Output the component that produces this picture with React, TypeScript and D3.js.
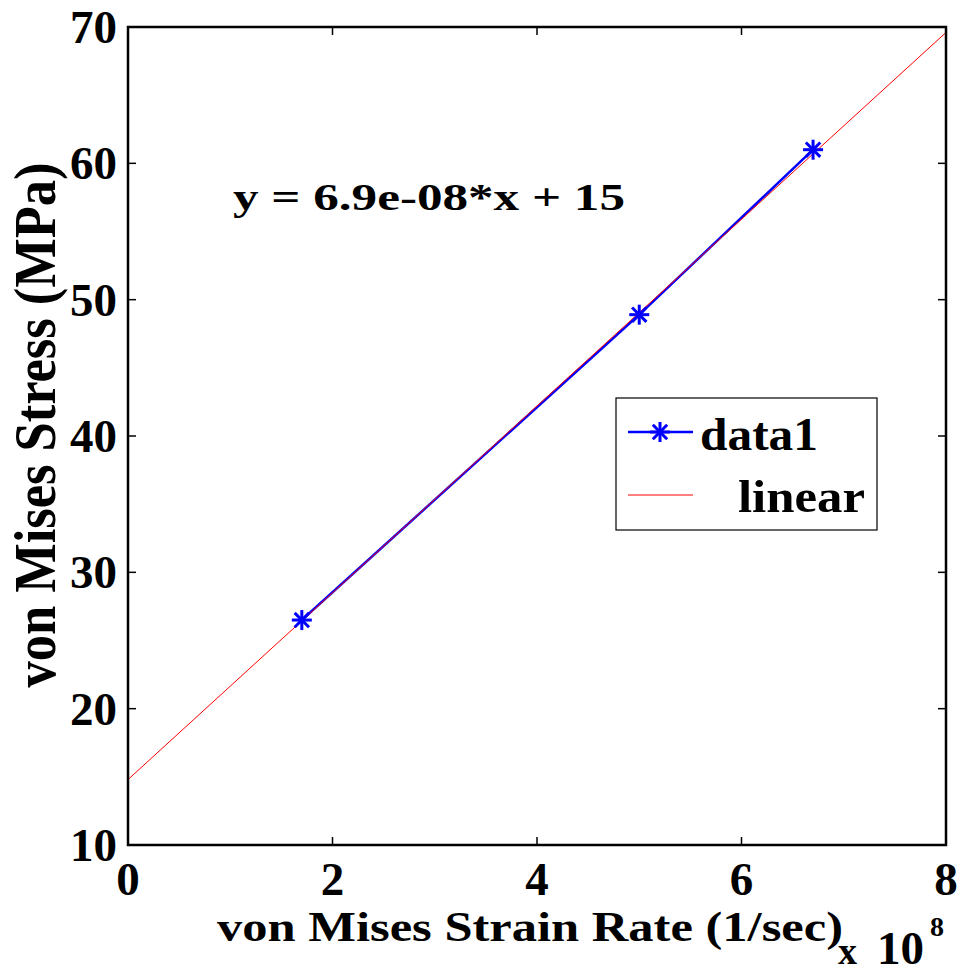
import React from "react";
import * as d3 from "d3";

const dataX = [1.7e8, 5.0e8, 6.7e8];
const dataY = [26.5, 48.9, 61.0];
const linearX = [0, 8e8];
const linearY = [14.8, 69.6];
const xTicks = [0, 2e8, 4e8, 6e8, 8e8];
const yTicks = [10, 20, 30, 40, 50, 60, 70];
const equationText = "y = 6.9e-08*x + 15";
const xLabel = "von Mises Strain Rate (1/sec)";
const yLabel = "von Mises Stress (MPa)";
const legendLabels = ["data1", "linear"];

const W = 962, H = 974;
const L = 128, T = 27, R = 946, B = 845;
const FONT = "'Liberation Serif', 'Times New Roman', serif";

function Star({ x, y }: { x: number; y: number }) {
  const r = 10, d = r * 0.72;
  return (
    <g stroke="#0000ff" strokeWidth={3}>
      <line x1={x - r} y1={y} x2={x + r} y2={y} />
      <line x1={x} y1={y - r} x2={x} y2={y + r} />
      <line x1={x - d} y1={y - d} x2={x + d} y2={y + d} />
      <line x1={x - d} y1={y + d} x2={x + d} y2={y - d} />
    </g>
  );
}

export default function App() {
  const x = d3.scaleLinear().domain([0, 8e8]).range([L, R]);
  const y = d3.scaleLinear().domain([10, 70]).range([B, T]);
  const line = d3.line<[number, number]>().x(d => x(d[0])).y(d => y(d[1]));
  const dataPts: [number, number][] = dataX.map((v, i) => [v, dataY[i]]);
  const linPts: [number, number][] = linearX.map((v, i) => [v, linearY[i]]);
  const tick = 8;
  return (
    <svg width={W} height={H} style={{ position: "absolute", left: 0, top: 0 }} fontFamily={FONT} fontWeight="bold">
      <rect width={W} height={H} fill="#fff" />
      <defs>
        <clipPath id="plot"><rect x={L} y={T} width={R - L} height={B - T} /></clipPath>
      </defs>
      <rect x={L} y={T} width={R - L} height={B - T} fill="#fff" />
      <g clipPath="url(#plot)">
        <path d={line(dataPts)!} fill="none" stroke="#0000ff" strokeWidth={2.5} />
        <path d={line(linPts)!} fill="none" stroke="#ff0000" strokeWidth={1} />
      </g>
      {dataPts.map((p, i) => <Star key={i} x={x(p[0])} y={y(p[1])} />)}
      <g stroke="#000" strokeWidth={1.5}>
        {xTicks.map((t, i) => (
          <g key={i}>
            <line x1={x(t)} x2={x(t)} y1={B} y2={B - tick} />
            <line x1={x(t)} x2={x(t)} y1={T} y2={T + tick} />
          </g>
        ))}
        {yTicks.map((t, i) => (
          <g key={i}>
            <line x1={L} x2={L + tick} y1={y(t)} y2={y(t)} />
            <line x1={R} x2={R - tick} y1={y(t)} y2={y(t)} />
          </g>
        ))}
      </g>
      <rect x={L} y={T} width={R - L} height={B - T} fill="none" stroke="#000" strokeWidth={2.5} />
      {xTicks.map((t, i) => (
        <text key={i} x={x(t)} y={895} textAnchor="middle" fontSize={47}>{String(t / 1e8)}</text>
      ))}
      {yTicks.map((t, i) => (
        <text key={i} x={117} y={y(t) + 16} textAnchor="end" fontSize={47}>{String(t)}</text>
      ))}
      <text x={217} y={941} fontSize={42} textLength={626} lengthAdjust="spacingAndGlyphs">{xLabel}</text>
      <text x={838} y={964} fontSize={38}>x</text>
      <text x={877} y={964} fontSize={47}>10</text>
      <text x={930} y={936} fontSize={28}>8</text>
      <text transform={`translate(55,425) rotate(-90)`} textAnchor="middle" fontSize={60} textLength={525} lengthAdjust="spacingAndGlyphs">{yLabel}</text>
      <text x={233} y={210} fontSize={38} textLength={392} lengthAdjust="spacingAndGlyphs">{equationText}</text>
      <rect x={616} y={398} width={261} height={132} fill="#fff" stroke="#000" strokeWidth={1.2} />
      <line x1={628} x2={693} y1={432} y2={432} stroke="#0000ff" strokeWidth={2.5} />
      <Star x={660} y={432} />
      <text x={700} y={450} fontSize={46} textLength={118} lengthAdjust="spacingAndGlyphs">{legendLabels[0]}</text>
      <line x1={628} x2={693} y1={495} y2={495} stroke="#ff0000" strokeWidth={1} />
      <text x={738} y={512} fontSize={46} textLength={127} lengthAdjust="spacingAndGlyphs">{legendLabels[1]}</text>
    </svg>
  );
}
